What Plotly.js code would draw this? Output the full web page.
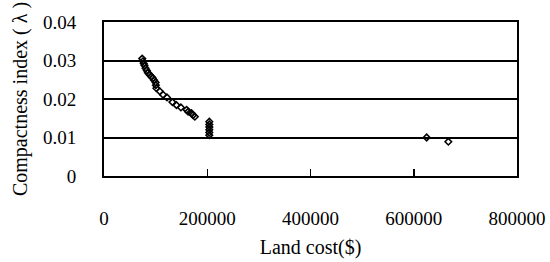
<!DOCTYPE html>
<html>
<head>
<meta charset="utf-8">
<script src="https://cdn.plot.ly/plotly-3.0.1.min.js"></script>
<style>html,body{margin:0;padding:0;background:#fff;}#chart{width:550px;height:262px;}</style>
</head>
<body>
<div id="chart"></div>
<script>
var landCost = [74000, 75500, 77000, 78500, 80500, 83000, 85000, 88500, 92000, 94500, 97000, 100000, 100500, 101500, 108000, 114500, 122000, 132500, 140500, 149000, 160000, 163000, 169500, 172500, 176000, 204000, 204000, 204000, 204000, 204000, 204000, 625000, 667000];
var compactness = [0.0305, 0.0298, 0.0292, 0.0287, 0.0280, 0.0274, 0.0268, 0.0263, 0.0258, 0.0254, 0.0249, 0.0243, 0.0236, 0.0228, 0.0220, 0.0211, 0.0204, 0.0192, 0.0184, 0.0178, 0.0172, 0.0167, 0.0163, 0.0158, 0.0154, 0.0141, 0.0134, 0.0127, 0.0120, 0.0113, 0.0106, 0.0100, 0.0089];
var xTicks = [0, 200000, 400000, 600000, 800000];
var yTicks = [0, 0.01, 0.02, 0.03, 0.04];
var yTickText = ['0', '0.01', '0.02', '0.03', '0.04'];

var font = {family: 'Liberation Serif, Times New Roman, serif', size: 19, color: '#000'};
var titleFont = {family: 'Liberation Serif, Times New Roman, serif', size: 20, color: '#000'};

var trace = {
  x: landCost, y: compactness, type: 'scatter', mode: 'markers',
  marker: {symbol: 'diamond-open', size: 5, color: '#000', line: {width: 1.6, color: '#000'}},
  cliponaxis: false, hoverinfo: 'none'
};

var layout = {
  width: 550, height: 262,
  margin: {l: 104, r: 33, t: 22, b: 86, pad: 0},
  paper_bgcolor: '#fff', plot_bgcolor: '#fff',
  showlegend: false,
  font: font,
  xaxis: {
    range: [0, 800000], tickvals: xTicks, ticktext: xTicks.map(String),
    showgrid: false, zeroline: false,
    showline: true, linecolor: '#000', linewidth: 2, mirror: true,
    ticks: 'inside', ticklen: 7, tickwidth: 1.5, tickcolor: '#000',
    ticklabelstandoff: 24,
    tickfont: font,
    title: {text: 'Land cost($)', font: titleFont, standoff: 12}
  },
  yaxis: {
    range: [0, 0.04], tickvals: yTicks, ticktext: yTickText,
    showgrid: true, gridcolor: '#000', gridwidth: 2,
    zeroline: false,
    showline: true, linecolor: '#000', linewidth: 2, mirror: true,
    ticks: '', ticklabelstandoff: 22,
    tickfont: font,
    title: {text: 'Compactness index ( λ )', font: titleFont, standoff: 10}
  }
};

Plotly.newPlot('chart', [trace], layout, {staticPlot: true, displayModeBar: false});
</script>
</body>
</html>
